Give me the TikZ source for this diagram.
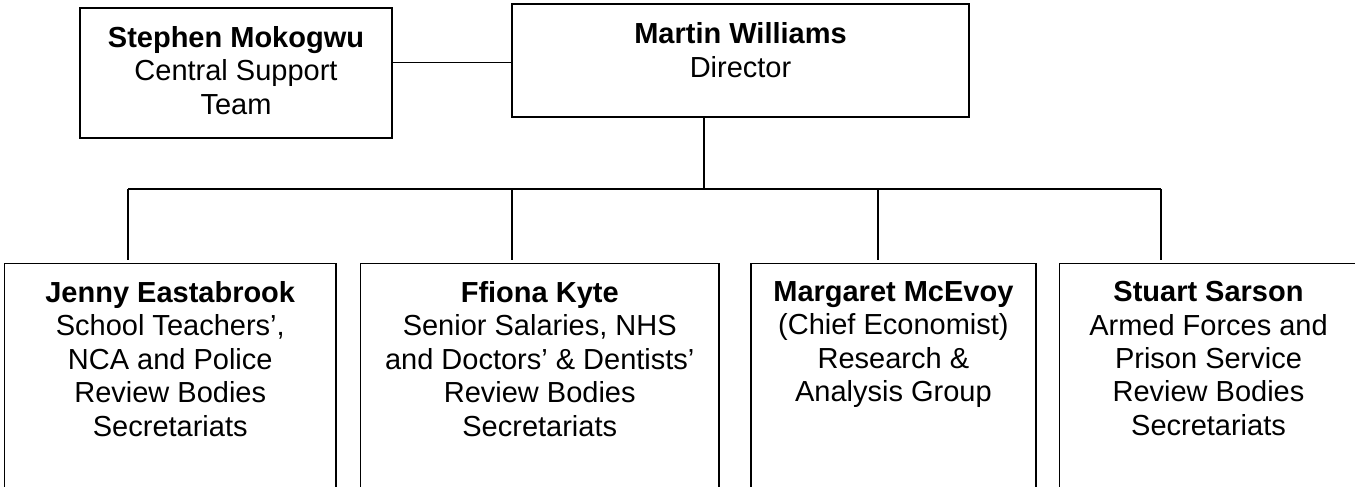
\documentclass[tikz,border=0pt]{standalone}
\usepackage{fontspec}
\setmainfont{Liberation Sans}
\usetikzlibrary{calc}

\begin{document}
\begin{tikzpicture}[line width=0.9pt]

  % --- CONFIGURAÇÕES GERAIS ---
  \def\yb{-3.78}   % altura da barra horizontal
  \def\yt{-5.254}  % topo das caixas inferiores

  % Estilo das caixas (texto no topo, sobra embaixo pelo text depth)
  \tikzstyle{box}=[draw, rectangle, align=center, anchor=north, inner ysep=0.36cm,
    font=\fontsize{16.5}{19}\selectfont]
  % Caixas inferiores (cortadas embaixo)
  \tikzstyle{team}=[box, text depth=4cm]

  \useasboundingbox (0,0) rectangle (27.1,-9.74);
  \clip (0,0) rectangle (27.1,-9.74);

  % --- TOPO ---
  \node[box, minimum width=6.24cm, minimum height=2.6cm, text depth=0.1cm] (support) at (4.72,-0.14)
    {\textbf{Stephen Mokogwu}\\Central Support\\Team};
  \node[box, minimum width=9.14cm, minimum height=2.26cm, text depth=0.42cm] (director) at (14.81,-0.066)
    {\textbf{Martin Williams}\\Director};

  % Ligação com a equipe de apoio
  \draw (support.east) ++(0,0.206) coordinate (sd) -- (sd -| director.west);

  % --- CAIXAS INFERIORES ---
  \node[team, minimum width=6.63cm] (teachers) at (3.405,\yt)
    {\textbf{Jenny Eastabrook}\\School Teachers’,\\NCA and Police\\Review Bodies\\Secretariats};
  \node[team, minimum width=7.162cm] (salaries) at (10.795,\yt)
    {\textbf{Ffiona Kyte}\\Senior Salaries, NHS\\and Doctors’ \& Dentists’\\Review Bodies\\Secretariats};
  \node[team, minimum width=5.696cm] (research) at (17.868,\yt)
    {\textbf{Margaret McEvoy}\\(Chief Economist)\\Research \&\\Analysis Group};
  \node[team, minimum width=5.96cm] (forces) at (24.17,\yt)
    {\textbf{Stuart Sarson}\\Armed Forces and\\Prison Service\\Review Bodies\\Secretariats};

  % --- LIGAÇÕES ---
  % Pontos na barra horizontal
  \coordinate (bT) at (2.56,\yb);
  \coordinate (bS) at (10.24,\yb);
  \coordinate (bD) at (14.08,\yb);
  \coordinate (bR) at (17.56,\yb);
  \coordinate (bF) at (23.216,\yb);

  \draw (director.south -| bD) -- (bD);
  \draw (bT) -- (bF);
  \foreach \c/\n in {bT/teachers, bS/salaries, bR/research, bF/forces} {
    \draw[shorten >=0.06cm] (\c) -- (\c |- \n.north);
  }

\end{tikzpicture}
\end{document}
